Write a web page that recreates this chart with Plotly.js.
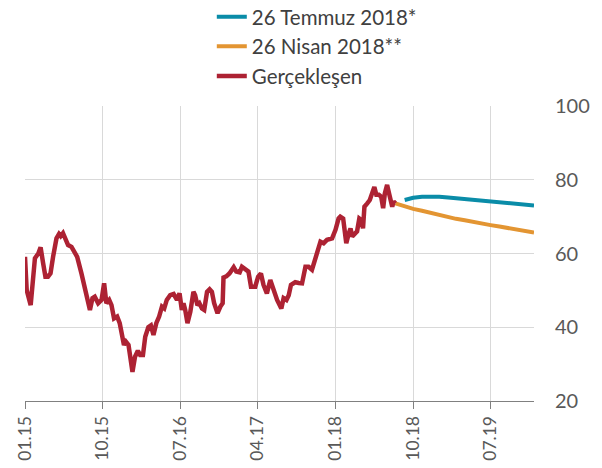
<!DOCTYPE html>
<html>
<head>
<meta charset="utf-8">
<script src="https://cdn.plot.ly/plotly-3.0.1.min.js"></script>
<style>html,body{margin:0;padding:0;background:#fff;}#chart{width:602px;height:468px;}</style>
</head>
<body>
<div id="chart"></div>
<script>
// Gerçekleşen (actual)
const actualDates = [
"2015-01-01","2015-01-07","2015-01-21","2015-01-30","2015-02-05","2015-02-17","2015-02-25","2015-03-06","2015-03-14","2015-03-23",
"2015-04-01","2015-04-10","2015-04-22","2015-05-01","2015-05-07","2015-05-15","2015-05-27","2015-06-02","2015-06-14","2015-06-22",
"2015-07-04","2015-07-19","2015-07-31","2015-08-08","2015-08-18","2015-08-27","2015-09-04","2015-09-16","2015-09-28","2015-10-07",
"2015-10-15","2015-10-25","2015-11-02","2015-11-11","2015-11-22","2015-12-01","2015-12-07","2015-12-16","2015-12-23","2016-01-01",
"2016-01-15","2016-01-24","2016-02-03","2016-02-11","2016-02-21","2016-02-29","2016-03-11","2016-03-20","2016-03-29","2016-04-08",
"2016-04-18","2016-04-28","2016-05-06","2016-05-15","2016-05-27","2016-06-08","2016-06-20","2016-06-29","2016-07-07","2016-07-13",
"2016-07-19","2016-07-27","2016-08-06","2016-08-17","2016-08-23","2016-08-31","2016-09-07","2016-09-16","2016-09-24","2016-10-04",
"2016-10-13","2016-10-21","2016-10-29","2016-11-10","2016-11-20","2016-11-28","2016-12-01","2016-12-11","2016-12-22","2017-01-06",
"2017-01-15","2017-01-27","2017-02-04","2017-02-16","2017-02-27","2017-03-08","2017-03-23","2017-04-02","2017-04-12","2017-04-21",
"2017-05-03","2017-05-15","2017-05-27","2017-06-08","2017-06-23","2017-07-01","2017-07-11","2017-07-19","2017-07-27","2017-08-11",
"2017-08-23","2017-09-04","2017-09-16","2017-09-27","2017-10-09","2017-10-25","2017-11-08","2017-11-19","2017-12-01","2017-12-19",
"2017-12-31","2018-01-11","2018-01-17","2018-01-27","2018-01-31","2018-02-07","2018-02-16","2018-02-22","2018-02-28","2018-03-09",
"2018-03-17","2018-03-25","2018-04-01","2018-04-07","2018-04-12","2018-04-22","2018-05-01","2018-05-09","2018-05-17","2018-05-24",
"2018-06-02","2018-06-10","2018-06-17","2018-06-23","2018-07-01","2018-07-09","2018-07-19","2018-07-24","2018-07-30"
];
const actualValues = [
59.1,50.1,46.0,53.7,58.7,60.0,61.7,57.3,53.7,53.7,
54.6,59.1,64.1,65.3,64.7,65.5,63.7,62.3,61.8,60.9,
59.1,54.6,50.1,47.4,44.7,47.9,48.3,46.5,47.4,51.9,
46.5,47.4,46.0,42.4,42.9,41.1,38.4,35.2,36.1,35.2,
27.9,32.0,33.6,32.5,32.5,37.4,40.0,40.5,37.9,41.1,
42.9,45.6,45.1,47.4,48.7,49.0,47.4,49.2,44.7,46.5,
44.7,41.1,44.2,49.6,48.7,46.0,46.5,45.1,44.7,49.6,
50.3,49.6,46.5,43.8,45.6,46.5,53.5,53.8,54.6,56.3,
55.1,54.9,56.4,55.6,55.1,51.0,51.0,53.7,54.6,51.5,
49.2,52.8,50.1,47.4,45.1,47.9,47.4,48.7,51.5,52.2,
52.0,51.9,56.4,56.4,55.6,60.0,63.2,62.8,63.7,64.1,
66.4,69.5,70.0,69.5,67.7,62.8,65.5,66.8,64.6,65.5,
66.0,69.5,69.1,66.8,72.7,73.6,74.5,76.3,78.0,75.9,
75.9,75.4,72.3,76.3,78.6,75.9,72.7,74.1,73.6
];
// 26 Temmuz 2018* forecast
const julyDates = ["2018-09-01","2018-10-01","2018-11-01","2018-12-01","2019-01-01","2019-02-01","2019-03-01","2019-04-01",
"2019-05-01","2019-06-01","2019-07-01","2019-08-01","2019-09-01","2019-10-01","2019-11-01","2019-12-01"];
const julyValues = [74.5,75.1,75.4,75.5,75.4,75.2,75.0,74.8,74.5,74.3,74.1,73.9,73.7,73.4,73.2,73.0];
// 26 Nisan 2018** forecast
const aprilDates = ["2018-07-30","2018-09-01","2018-10-01","2018-11-01","2018-12-01","2019-01-01","2019-02-01","2019-03-01",
"2019-04-01","2019-05-01","2019-06-01","2019-07-01","2019-08-01","2019-09-01","2019-10-01","2019-11-01","2019-12-01"];
const aprilValues = [73.6,72.7,72.1,71.6,71.0,70.4,70.0,69.4,69.0,68.5,68.1,67.7,67.3,66.9,66.5,66.1,65.7];

const seriesNames = ["26 Temmuz 2018*","26 Nisan 2018**","Gerçekleşen"];
const yTicks = [20,40,60,80,100];

const FONT = "Lato, 'Open Sans', sans-serif";
const traces = [
  {x: julyDates, y: julyValues, name: seriesNames[0], mode: "lines", line: {color: "#0A8CA8", width: 4}},
  {x: aprilDates, y: aprilValues, name: seriesNames[1], mode: "lines", line: {color: "#E39532", width: 4}},
  {x: actualDates, y: actualValues, name: seriesNames[2], mode: "lines", line: {color: "#AD2233", width: 4.5}}
];
const layout = {
  width: 602, height: 468,
  margin: {l: 25, r: 68, t: 106, b: 67, autoexpand: false},
  paper_bgcolor: "#fff", plot_bgcolor: "#fff",
  font: {family: FONT, color: "#595959", size: 17},
  showlegend: true,
  legend: {x: 0.367, y: 1.37, xanchor: "left", yanchor: "top",
           font: {size: 20.5, color: "#404040"}, bgcolor: "rgba(0,0,0,0)", tracegroupgap: 0},
  xaxis: {
    type: "date", range: ["2015-01-01", "2019-12-01"],
    tick0: "2015-01-01", dtick: "M9", tickformat: "%m.%y", tickangle: -90,
    showgrid: true, gridcolor: "#D9D9D9", gridwidth: 1,
    showline: true, linecolor: "#808080", linewidth: 1,
    ticks: "outside", ticklen: 7, tickcolor: "#808080",
    tickfont: {size: 17.5, color: "#595959"}, zeroline: false
  },
  yaxis: {
    side: "right", range: [20, 100], tickvals: yTicks,
    showgrid: true, gridcolor: "#D9D9D9", gridwidth: 1,
    showline: false, ticks: "", zeroline: false,
    ticklabelstandoff: 20,
    tickfont: {size: 20, color: "#595959"}
  }
};
Plotly.newPlot("chart", traces, layout, {displayModeBar: false, staticPlot: true});
</script>
</body>
</html>
